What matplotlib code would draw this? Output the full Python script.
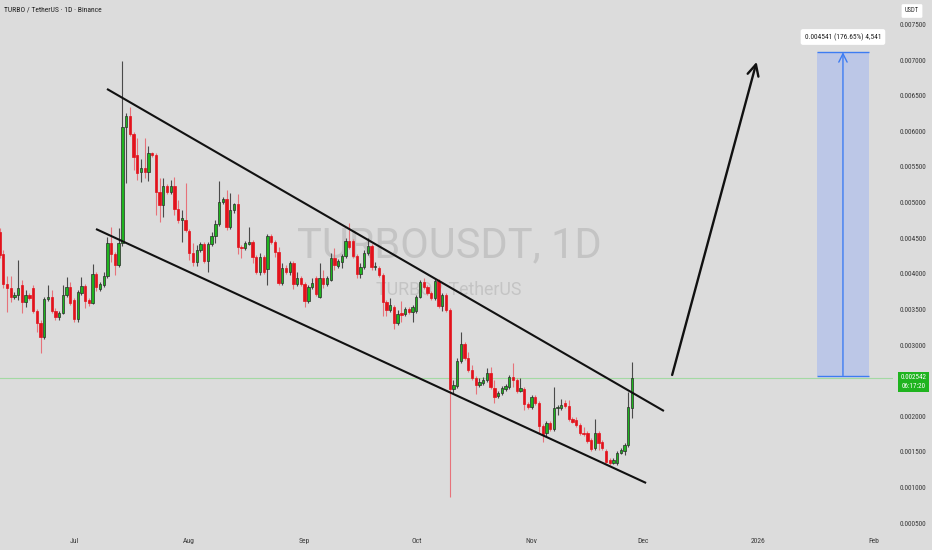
import numpy as np
import pandas as pd
import matplotlib
matplotlib.use("Agg")
import matplotlib.pyplot as plt
import matplotlib.dates as mdates
import matplotlib.font_manager as fm
from matplotlib.patches import Rectangle

# ---------------- data (daily candles, TURBO/USDT) ----------------
first_day = "2025-06-11"
opens = [
    0.004587, 0.004278, 0.003857, 0.003801, 0.003674, 0.003702, 0.003843, 0.003604, 0.003702, 0.003801,
    0.003477, 0.003309, 0.003112, 0.003646, 0.003674, 0.003477, 0.003393, 0.003449, 0.003702, 0.003815,
    0.003632, 0.003365, 0.003730, 0.003829, 0.003632, 0.003590, 0.003997, 0.003786, 0.003843, 0.003969,
    0.004433, 0.004278, 0.004124, 0.004433, 0.006062, 0.006216, 0.005964, 0.005669, 0.005430, 0.005486,
    0.005430, 0.005697, 0.005669, 0.005149, 0.004966, 0.005233, 0.005149, 0.005233, 0.004910, 0.004756,
    0.004756, 0.004601, 0.004292, 0.004166, 0.004334, 0.004419, 0.004180, 0.004419, 0.004531, 0.004699,
    0.005008, 0.005051, 0.004657, 0.004896, 0.004980, 0.004376, 0.004362, 0.004419, 0.004447, 0.004236,
    0.004025, 0.004236, 0.004067, 0.004531, 0.004447, 0.004306, 0.003871, 0.004081, 0.004025, 0.004152,
    0.003857, 0.003941, 0.003857, 0.003618, 0.003815, 0.003941, 0.003674, 0.003941, 0.003857, 0.003913,
    0.004222, 0.004110, 0.004166, 0.004250, 0.004461, 0.004461, 0.004250, 0.003997, 0.004095, 0.004292,
    0.004390, 0.004095, 0.004081, 0.003983, 0.003604, 0.003492, 0.003534, 0.003309, 0.003449, 0.003435,
    0.003506, 0.003463, 0.003477, 0.003674, 0.003885, 0.003815, 0.003730, 0.003660, 0.003899, 0.003548,
    0.003702, 0.003492, 0.002382, 0.002424, 0.002775, 0.003014, 0.002817, 0.002649, 0.002537, 0.002438,
    0.002466, 0.002508, 0.002607, 0.002396, 0.002284, 0.002326, 0.002382, 0.002410, 0.002551, 0.002508,
    0.002354, 0.002382, 0.002171, 0.002129, 0.002270, 0.002185, 0.001862, 0.001764, 0.001904, 0.001820,
    0.002115, 0.002115, 0.002185, 0.002143, 0.001961, 0.001947, 0.001876, 0.001764, 0.001764, 0.001666,
    0.001553, 0.001764, 0.001638, 0.001511, 0.001385, 0.001343, 0.001343, 0.001483, 0.001511, 0.001595,
    0.002115,
]
highs = [
    0.004643, 0.004334, 0.003969, 0.003969, 0.003744, 0.004194, 0.003913, 0.003772, 0.003730, 0.003843,
    0.003506, 0.003351, 0.003674, 0.003843, 0.003772, 0.003520, 0.003477, 0.003843, 0.003955, 0.003885,
    0.003660, 0.003772, 0.003955, 0.003857, 0.003660, 0.004138, 0.004025, 0.003885, 0.004025, 0.004517,
    0.004657, 0.004306, 0.004643, 0.006989, 0.006258, 0.006343, 0.005992, 0.005907, 0.005612, 0.005907,
    0.005795, 0.005711, 0.005697, 0.005345, 0.005345, 0.005261, 0.005317, 0.005360, 0.005037, 0.004896,
    0.005275, 0.004629, 0.004433, 0.004404, 0.004447, 0.004447, 0.004447, 0.004587, 0.004756, 0.005303,
    0.005079, 0.005177, 0.005135, 0.004994, 0.005121, 0.004404, 0.004461, 0.004657, 0.004475, 0.004264,
    0.004292, 0.004264, 0.004559, 0.004559, 0.004475, 0.004376, 0.004152, 0.004124, 0.004180, 0.004180,
    0.004025, 0.003969, 0.003885, 0.003843, 0.003941, 0.003969, 0.004152, 0.004053, 0.003969, 0.004292,
    0.004362, 0.004208, 0.004278, 0.004503, 0.004713, 0.004489, 0.004278, 0.004152, 0.004334, 0.004503,
    0.004419, 0.004166, 0.004110, 0.004011, 0.003632, 0.003660, 0.003562, 0.003492, 0.003618, 0.003534,
    0.003534, 0.003562, 0.003702, 0.003913, 0.003941, 0.003843, 0.003758, 0.003941, 0.003927, 0.003730,
    0.003730, 0.003520, 0.002508, 0.002817, 0.003183, 0.003042, 0.002902, 0.002719, 0.002565, 0.002537,
    0.002551, 0.002677, 0.002691, 0.002508, 0.002354, 0.002424, 0.002452, 0.002579, 0.002747, 0.002537,
    0.002537, 0.002410, 0.002199, 0.002298, 0.002298, 0.002213, 0.001890, 0.001933, 0.001933, 0.002410,
    0.002157, 0.002242, 0.002228, 0.002228, 0.001989, 0.001989, 0.001904, 0.001848, 0.001792, 0.001694,
    0.001961, 0.001792, 0.001666, 0.001539, 0.001413, 0.001413, 0.001511, 0.001553, 0.001624, 0.002340,
    0.002761,
]
lows = [
    0.004222, 0.003801, 0.003463, 0.003604, 0.003646, 0.003632, 0.003449, 0.003534, 0.003632, 0.003449,
    0.003183, 0.002888, 0.003084, 0.003618, 0.003449, 0.003351, 0.003351, 0.003435, 0.003674, 0.003562,
    0.003323, 0.003323, 0.003702, 0.003520, 0.003548, 0.003576, 0.003758, 0.003758, 0.003815, 0.003941,
    0.004166, 0.003983, 0.004095, 0.004390, 0.005275, 0.005935, 0.005458, 0.005317, 0.005289, 0.005345,
    0.005303, 0.005640, 0.004826, 0.004728, 0.004798, 0.005121, 0.005121, 0.004826, 0.004713, 0.004447,
    0.004587, 0.004194, 0.004110, 0.004110, 0.004306, 0.004152, 0.004025, 0.004390, 0.004433, 0.004671,
    0.004980, 0.004615, 0.004629, 0.004854, 0.004278, 0.004222, 0.004334, 0.004404, 0.004152, 0.003997,
    0.003983, 0.003997, 0.003843, 0.004419, 0.004236, 0.003843, 0.003843, 0.003997, 0.003983, 0.003786,
    0.003829, 0.003829, 0.003534, 0.003590, 0.003786, 0.003688, 0.003660, 0.003801, 0.003829, 0.003899,
    0.004053, 0.004081, 0.004081, 0.004222, 0.004348, 0.004222, 0.003941, 0.003941, 0.004067, 0.004264,
    0.004053, 0.004053, 0.003955, 0.003407, 0.003407, 0.003463, 0.003225, 0.003281, 0.003323, 0.003407,
    0.003435, 0.003323, 0.003449, 0.003660, 0.003786, 0.003702, 0.003632, 0.003632, 0.003520, 0.003477,
    0.003463, 0.000865, 0.002326, 0.002396, 0.002747, 0.002789, 0.002621, 0.002508, 0.002312, 0.002410,
    0.002438, 0.002480, 0.002382, 0.002185, 0.002256, 0.002298, 0.002354, 0.002382, 0.002410, 0.002326,
    0.002340, 0.002087, 0.002101, 0.002101, 0.002157, 0.001764, 0.001638, 0.001708, 0.001792, 0.001792,
    0.002017, 0.002087, 0.002115, 0.001933, 0.001904, 0.001848, 0.001736, 0.001722, 0.001624, 0.001511,
    0.001525, 0.001525, 0.001525, 0.001343, 0.001315, 0.001329, 0.001315, 0.001469, 0.001455, 0.001567,
    0.001975,
]
closes = [
    0.004264, 0.003857, 0.003801, 0.003674, 0.003702, 0.003801, 0.003604, 0.003702, 0.003660, 0.003477,
    0.003309, 0.003112, 0.003646, 0.003674, 0.003477, 0.003393, 0.003449, 0.003702, 0.003815, 0.003590,
    0.003365, 0.003744, 0.003829, 0.003618, 0.003590, 0.003997, 0.003815, 0.003857, 0.003969, 0.004433,
    0.004278, 0.004124, 0.004433, 0.006062, 0.006216, 0.005964, 0.005640, 0.005416, 0.005486, 0.005430,
    0.005697, 0.005669, 0.005149, 0.004966, 0.005233, 0.005149, 0.005233, 0.004910, 0.004756, 0.004784,
    0.004615, 0.004292, 0.004166, 0.004334, 0.004419, 0.004180, 0.004419, 0.004531, 0.004699, 0.005008,
    0.005051, 0.004657, 0.004896, 0.004980, 0.004376, 0.004362, 0.004433, 0.004447, 0.004236, 0.004025,
    0.004236, 0.004025, 0.004531, 0.004447, 0.004306, 0.003871, 0.004081, 0.004025, 0.004152, 0.003857,
    0.003941, 0.003857, 0.003618, 0.003815, 0.003871, 0.003716, 0.003941, 0.003857, 0.003941, 0.004222,
    0.004124, 0.004180, 0.004250, 0.004461, 0.004376, 0.004250, 0.003997, 0.004095, 0.004292, 0.004390,
    0.004095, 0.004110, 0.003983, 0.003604, 0.003492, 0.003562, 0.003309, 0.003435, 0.003421, 0.003506,
    0.003463, 0.003534, 0.003674, 0.003885, 0.003815, 0.003730, 0.003660, 0.003899, 0.003548, 0.003702,
    0.003492, 0.002382, 0.002438, 0.002775, 0.003014, 0.002817, 0.002649, 0.002537, 0.002438, 0.002480,
    0.002508, 0.002607, 0.002410, 0.002270, 0.002326, 0.002396, 0.002424, 0.002551, 0.002508, 0.002354,
    0.002396, 0.002171, 0.002129, 0.002270, 0.002185, 0.001862, 0.001750, 0.001904, 0.001820, 0.002115,
    0.002129, 0.002157, 0.002143, 0.001961, 0.001918, 0.001876, 0.001764, 0.001750, 0.001652, 0.001539,
    0.001764, 0.001624, 0.001553, 0.001357, 0.001343, 0.001385, 0.001483, 0.001525, 0.001595, 0.002129,
    0.002542,
]

last_price = 0.002542
countdown = "06:17:20"

# drawings (date, price anchors)
upper_line = [("2025-07-09 21:00", 0.006596), ("2025-12-06 14:00", 0.002073)]
lower_line = [("2025-07-06 22:00", 0.004629), ("2025-12-01 19:00", 0.001062)]
big_arrow = [("2025-12-08 19:00", 0.002579), ("2025-12-31 12:00", 0.006976)]
measure_dates = ["2026-01-16 17:00", "2026-01-30 17:00"]
measure_base = 0.002571
measure_delta = 0.004541
measure_label = "0.004541 (176.65%) 4,541"

# price scale labels (0.002500 is hidden behind the last-price tag)
price_ticks = [0.0005, 0.0010, 0.0015, 0.0020, 0.0030, 0.0035, 0.0040,
               0.0045, 0.0050, 0.0055, 0.0060, 0.0065, 0.0070, 0.0075]
month_ticks = ["2025-07-01", "2025-08-01", "2025-09-01", "2025-10-01",
               "2025-11-01", "2025-12-01", "2026-01-01", "2026-02-01"]
month_labels = ["Jul", "Aug", "Sep", "Oct", "Nov", "Dec", "2026", "Feb"]

# ---------------- fonts ----------------
names = {f.name for f in fm.fontManager.ttflist}
narrow = next((n for n in ["Liberation Sans Narrow", "Roboto Condensed", "Open Sans Condensed",
                           "Roboto", "Liberation Sans"] if n in names), "DejaVu Sans")
wm_font = next((n for n in ["Roboto", "Liberation Sans", "Noto Sans"] if n in names), "DejaVu Sans")
plt.rcParams["font.family"] = [narrow, "DejaVu Sans"]

BG = "#dcdcdc"
TXT = "#3a3a3a"

fig = plt.figure(figsize=(9.32, 5.5), dpi=100)
fig.patch.set_facecolor(BG)
ax = fig.add_axes([0, 22 / 550, 893 / 932, 528 / 550])
ax.set_facecolor(BG)

o = np.array(opens); h = np.array(highs); l = np.array(lows); c = np.array(closes)
dates = pd.date_range(first_day, periods=len(o), freq="D")
x = mdates.date2num(dates.to_pydatetime())
up = c >= o

green, red = "#1fb41f", "#e3121c"
wick_cols = np.where(up, "#4a4a4a", "#e7727a")
body_cols = np.where(up, green, red)
edge_cols = np.where(up, "#2a2a2a", red)

ax.vlines(x, l, h, colors=wick_cols, linewidth=0.8, zorder=3)
body_bottom = np.minimum(o, c)
body_h = np.maximum(np.abs(c - o), 0.000012)
ax.bar(x, body_h, bottom=body_bottom, width=0.62, color=body_cols,
       edgecolor=edge_cols, linewidth=0.5, zorder=4)

def dnum(s):
    return mdates.date2num(pd.Timestamp(s).to_pydatetime())

jul1 = dnum("2025-07-01")
ax.set_xlim(jul1 - 19.89, jul1 + 220.16)
ax.set_ylim(0.00042978, 0.0078455)

# watermark
ax.text(0.503, 0.535, "TURBOUSDT, 1D", transform=ax.transAxes, ha="center", va="center",
        fontsize=30, color="#c4c4c4", family=[wm_font], zorder=0)
ax.text(0.503, 0.451, "TURBO / TetherUS", transform=ax.transAxes, ha="center", va="center",
        fontsize=12.8, color="#c4c4c4", family=[wm_font], zorder=0)

# last price line
ax.axhline(last_price, color="#a3d9a3", lw=0.8, zorder=1)

# channel lines
for line in (upper_line, lower_line):
    ax.plot([dnum(line[0][0]), dnum(line[1][0])], [line[0][1], line[1][1]],
            color="#111111", lw=1.5, zorder=5, solid_capstyle="butt")

# big arrow
ax.annotate("", xy=(dnum(big_arrow[1][0]), big_arrow[1][1]),
            xytext=(dnum(big_arrow[0][0]), big_arrow[0][1]),
            arrowprops=dict(arrowstyle="->,head_length=0.8,head_width=0.4", lw=1.7,
                            color="#111111", shrinkA=0, shrinkB=0), zorder=6)

# measurement tool
mx0, mx1 = dnum(measure_dates[0]), dnum(measure_dates[1])
mtop = measure_base + measure_delta
ax.add_patch(Rectangle((mx0, measure_base), mx1 - mx0, measure_delta,
                       facecolor="#bcc7e7", edgecolor="none", zorder=2))
ax.hlines([measure_base, mtop], mx0, mx1, color="#3d7cf2", lw=1.0, zorder=3)
ax.annotate("", xy=((mx0 + mx1) / 2, mtop), xytext=((mx0 + mx1) / 2, measure_base),
            arrowprops=dict(arrowstyle="->,head_length=0.6,head_width=0.3", lw=1.0,
                            color="#3d7cf2", shrinkA=0, shrinkB=0), zorder=3)
ax.text((mx0 + mx1) / 2, 0.007326, measure_label, ha="center", va="center",
        fontsize=5.3, color="#222222", zorder=7,
        bbox=dict(boxstyle="round,pad=0.55,rounding_size=0.3", fc="white", ec="none"))

# axes styling
for s in ax.spines.values():
    s.set_visible(False)
ax.yaxis.tick_right()
ax.set_yticks(price_ticks)
ax.set_yticklabels([f"{v:.6f}" for v in price_ticks])
ax.tick_params(axis="y", length=0, pad=5, labelsize=5.3, labelcolor=TXT)
ax.set_xticks([dnum(m) for m in month_ticks])
ax.set_xticklabels(month_labels)
ax.tick_params(axis="x", length=0, pad=7, labelsize=5.5, labelcolor=TXT)

# header and labels
fig.text(4 / 932, 1 - 10 / 550, "TURBO / TetherUS · 1D · Binance", fontsize=5.5,
         color="#222222", ha="left", va="center")
fig.text(912 / 932, 1 - 11 / 550, "USDT", fontsize=4.8, color="#333333", ha="center", va="center",
         bbox=dict(boxstyle="round,pad=0.5,rounding_size=0.2", fc="white", ec="none"))
fig.text(913.5 / 932, 1 - 382 / 550, f"{last_price:.6f}\n{countdown}", fontsize=5.0,
         color="white", ha="center", va="center", linespacing=1.35,
         bbox=dict(boxstyle="square,pad=0.35", fc="#1fb41f", ec="none"))

fig.savefig("out.png", dpi=100, facecolor=BG)
